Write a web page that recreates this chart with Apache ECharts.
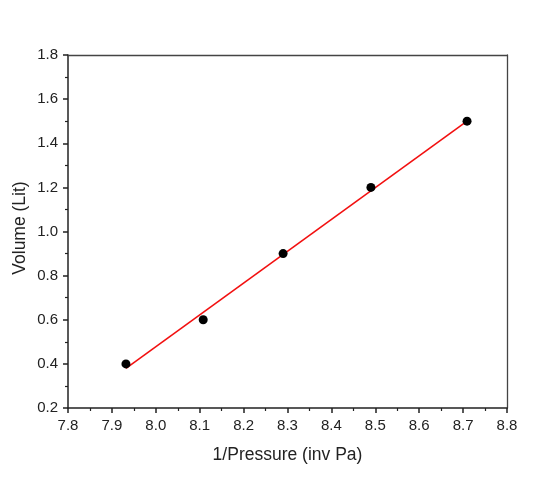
<!DOCTYPE html>
<html>
<head>
<meta charset="utf-8">
<script src="https://cdn.jsdelivr.net/npm/echarts@6/dist/echarts.min.js"></script>
<style>
  html, body { margin: 0; padding: 0; background: #fff; }
  #main { width: 560px; height: 490px; }
</style>
</head>
<body>
<div id="main"></div>
<script>
'use strict';

// measured points
const invPressure = [7.932, 8.108, 8.290, 8.490, 8.709];
const volume = [0.4, 0.6, 0.9, 1.2, 1.5];
// fitted line ends
const fitX = [7.932, 8.709];
const fitY = [0.38, 1.50];

const xTicks = ['7.8', '7.9', '8.0', '8.1', '8.2', '8.3', '8.4', '8.5', '8.6', '8.7', '8.8'];
const yTicks = ['0.2', '0.4', '0.6', '0.8', '1.0', '1.2', '1.4', '1.6', '1.8'];

const font = 'Liberation Sans, Arial, sans-serif';
const ink = '#222';

window.onload = function () {
    let mChart = echarts.init(document.getElementById('main'));

    let plainAxis = {
        axisLine: { show: true, lineStyle: { color: '#444', width: 1.3 } },
        axisTick: { show: false },
        axisLabel: { show: false },
        splitLine: { show: false }
    };

    let options = {
        animation: false,
        backgroundColor: '#fff',
        grid: { left: 68, top: 55, right: 53, bottom: 82 },
        // y title placed by hand, nameGap would not move it
        graphic: [{
            type: 'text',
            x: 20, y: 228,
            rotation: Math.PI / 2,
            style: {
                text: 'Volume (Lit)',
                font: '17.5px ' + font,
                fill: ink,
                align: 'center',
                verticalAlign: 'middle'
            }
        }],
        xAxis: [{
            type: 'value',
            min: 7.8, max: 8.8, interval: 0.1,
            name: '1/Pressure (inv Pa)',
            nameLocation: 'middle',
            nameGap: 38,
            nameTextStyle: { fontFamily: font, fontSize: 17.5, color: ink },
            axisLine: { onZero: false, lineStyle: { color: ink, width: 1.5 } },
            axisTick: { show: true, length: 5, lineStyle: { color: ink, width: 1.5 } },
            minorTick: { show: true, splitNumber: 2, length: 3, lineStyle: { color: ink, width: 1.2 } },
            axisLabel: {
                fontFamily: font, fontSize: 15, color: ink, margin: 10,
                formatter: function (v) { return xTicks[Math.round((v - 7.8) * 10)]; }
            },
            splitLine: { show: false }
        }, Object.assign({ type: 'value', position: 'top', min: 7.8, max: 8.8 }, plainAxis)],
        yAxis: [{
            type: 'value',
            min: 0.2, max: 1.8, interval: 0.2,
            axisLine: { show: true, onZero: false, lineStyle: { color: ink, width: 1.5 } },
            axisTick: { show: true, length: 5, lineStyle: { color: ink, width: 1.5 } },
            minorTick: { show: true, splitNumber: 2, length: 3, lineStyle: { color: ink, width: 1.2 } },
            axisLabel: {
                fontFamily: font, fontSize: 15, color: ink, margin: 10,
                formatter: function (v) { return yTicks[Math.round((v - 0.2) * 5)]; }
            },
            splitLine: { show: false }
        }, Object.assign({ type: 'value', position: 'right', min: 0.2, max: 1.8 }, plainAxis)],
        series: [{
            type: 'line',
            data: fitX.map((x, i) => [x, fitY[i]]),
            symbol: 'none',
            lineStyle: { color: '#f21010', width: 1.6 },
            z: 2
        }, {
            type: 'scatter',
            data: invPressure.map((x, i) => [x, volume[i]]),
            symbol: 'circle',
            symbolSize: 9,
            itemStyle: { color: '#000', opacity: 1 },
            z: 3
        }]
    };

    mChart.setOption(options, true);
};
</script>
</body>
</html>
